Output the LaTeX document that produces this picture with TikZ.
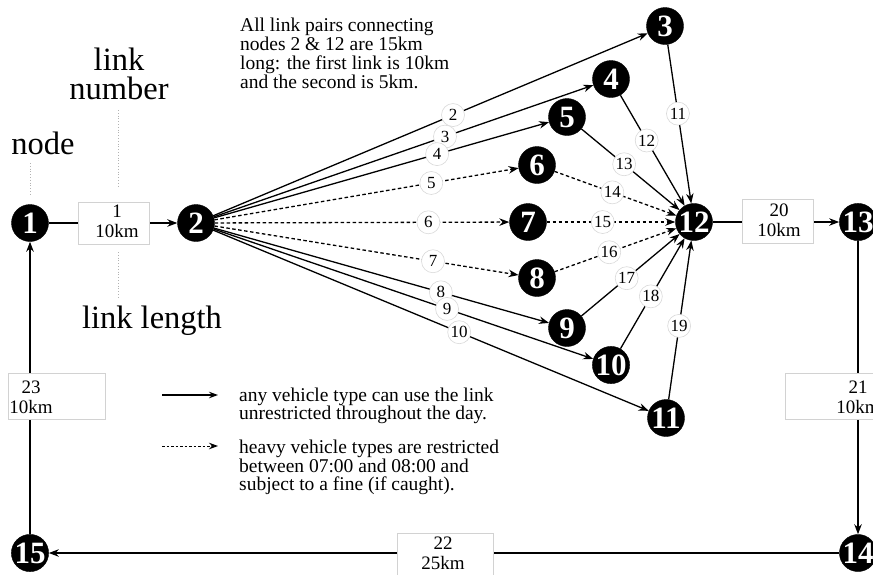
\documentclass[tikz,border=0pt]{standalone}
\usepackage{fontspec}
\setmainfont{Liberation Serif}
\usetikzlibrary{arrows.meta,calc}
\begin{document}
\begin{tikzpicture}[x=1pt,y=-1pt,
  junction/.style={circle,fill=black,draw=black,minimum size=37pt,inner sep=0pt,
    text=white,font=\fontsize{31}{31}\selectfont\bfseries},
  linkno/.style={circle,fill=white,draw=gray!30,line width=0.6pt,minimum size=23pt,
    inner sep=0pt,font=\fontsize{17}{17}\selectfont},
  linkbox/.style={draw=gray!35,fill=white,line width=0.8pt,inner sep=0pt},
  boxtext/.style={align=center,inner sep=0pt,font=\fontsize{19}{20}\selectfont},
  road/.style={line width=1.3pt,-{Stealth[length=10pt,width=7.5pt]}},
  restricted/.style={road,dash pattern=on 3.5pt off 2.5pt},
  guide/.style={gray!60,line width=0.8pt,dotted},
  bigtext/.style={inner sep=0pt,font=\fontsize{32.5}{29}\selectfont},
  note/.style={inner sep=0pt,anchor=north west,align=left},
]
\useasboundingbox (0,0) rectangle (873,574);

% junctions
\node[junction] (n1) at (30,223) {1};
\node[junction] (n2) at (196,223) {2};
\node[junction] (n3) at (665,26) {3};
\node[junction] (n4) at (611,79) {4};
\node[junction] (n5) at (567,117) {5};
\node[junction] (n6) at (537,165) {6};
\node[junction] (n7) at (528,222) {7};
\node[junction] (n8) at (537,278) {8};
\node[junction] (n9) at (567,328) {9};
\node[junction] (n10) at (611,365) {10};
\node[junction] (n11) at (666,418) {11};
\node[junction] (n12) at (694,222) {12};
\node[junction] (n13) at (858,222) {13};
\node[junction] (n14) at (858,553) {14};
\node[junction] (n15) at (30,553) {15};

% outer ring of links
\draw[road] (n1) -- (n2);
\draw[road] (n12) -- (n13);
\draw[road] (n13) -- (n14);
\draw[road] (n14) -- (n15);
\draw[road] (n15) -- (n1);

% first halves of the link pairs
\draw[road] (n2) -- (n3);
\draw[road] (n2) -- (n4);
\draw[road] (n2) -- (n5);
\draw[restricted] (n2) -- (n6);
\draw[restricted] (n2) -- (n7);
\draw[restricted] (n2) -- (n8);
\draw[road] (n2) -- (n9);
\draw[road] (n2) -- (n10);
\draw[road] (n2) -- (n11);

% second halves of the link pairs
\draw[road] (n3) -- (n12);
\draw[road] (n4) -- (n12);
\draw[road] (n5) -- (n12);
\draw[restricted] (n6) -- (n12);
\draw[restricted] (n7) -- (n12);
\draw[restricted] (n8) -- (n12);
\draw[road] (n9) -- (n12);
\draw[road] (n10) -- (n12);
\draw[road] (n11) -- (n12);

% link numbers on the link pairs
\node[linkno] (l2) at ($(n2)!0.548!(n3)$) {2};
\node[linkno] (l3) at ($(n2)!0.600!(n4)$) {3};
\node[linkno] (l4) at ($(n2)!0.650!(n5)$) {4};
\node[linkno] (l5) at ($(n2)!0.690!(n6)$) {5};
\node[linkno] (l6) at ($(n2)!0.700!(n7)$) {6};
\node[linkno] (l7) at ($(n2)!0.695!(n8)$) {7};
\node[linkno] (l8) at ($(n2)!0.660!(n9)$) {8};
\node[linkno] (l9) at ($(n2)!0.605!(n10)$) {9};
\node[linkno] (l10) at ($(n2)!0.560!(n11)$) {10};
\node[linkno] (l11) at ($(n3)!0.447!(n12)$) {11};
\node[linkno] (l12) at ($(n4)!0.430!(n12)$) {12};
\node[linkno] (l13) at ($(n5)!0.450!(n12)$) {13};
\node[linkno] (l14) at ($(n6)!0.480!(n12)$) {14};
\node[linkno] (l15) at ($(n7)!0.450!(n12)$) {15};
\node[linkno] (l16) at ($(n8)!0.460!(n12)$) {16};
\node[linkno] (l17) at ($(n9)!0.470!(n12)$) {17};
\node[linkno] (l18) at ($(n10)!0.480!(n12)$) {18};
\node[linkno] (l19) at ($(n11)!0.470!(n12)$) {19};

% link boxes with number and length
\node[linkbox,minimum width=71pt,minimum height=42pt] (b1) at (113.5,223) {};
\node[boxtext] (t1) at (117,221) {1\\10km};
\node[linkbox,minimum width=71pt,minimum height=44pt] (b20) at (777.5,221) {};
\node[boxtext] (t20) at (779,220) {20\\10km};
\node[linkbox,minimum width=97pt,minimum height=46pt] (b21) at (833.5,396) {};
\node[boxtext] (t21) at (858,397) {21\\10km};
\node[linkbox,minimum width=96pt,minimum height=46pt] (b22) at (445,556) {};
\node[boxtext] (t22) at (443,553) {22\\25km};
\node[linkbox,minimum width=97pt,minimum height=46pt] (b23) at (56.5,396) {};
\node[boxtext] (t23) at (31,397) {23\\10km};

% key labels with dotted leaders
\node[bigtext,anchor=base] (knode) at (43,154) {node};
\node[bigtext,anchor=north,align=center] (knumber) at (119,47.5) {link\\number};
\node[bigtext,anchor=base] (klength) at (152,328) {link length};
\coordinate (g1a) at (30,163); \coordinate (g1b) at (30,195);
\coordinate (g2a) at (118,110); \coordinate (g2b) at (118,188);
\coordinate (g3a) at (118,252); \coordinate (g3b) at (118,298);
\draw[guide] (g1a) -- (g1b);
\draw[guide] (g2a) -- (g2b);
\draw[guide] (g3a) -- (g3b);

% explanatory note
\node[note,font=\fontsize{19.5}{19.2}\selectfont] (pairs) at (240,17.5)
  {All link pairs connecting\\nodes 2 \& 12 are 15km\\long: the first link is 10km\\and the second is 5km.};

% legend
\coordinate (ka) at (162,395); \coordinate (kb) at (218,395);
\coordinate (kc) at (162,446); \coordinate (kd) at (218,446);
\draw[line width=1.3pt,-{Stealth[length=9pt,width=6.5pt]}] (ka) -- (kb);
\draw[line width=1pt,dash pattern=on 2.5pt off 2pt,-{Stealth[length=9pt,width=6.5pt]}] (kc) -- (kd);
\node[note,font=\fontsize{19.5}{18.4}\selectfont] (keyA) at (239,387.5)
  {any vehicle type can use the link\\unrestricted throughout the day.};
\node[note,font=\fontsize{19.5}{18.4}\selectfont] (keyB) at (239,440)
  {heavy vehicle types are restricted\\between 07:00 and 08:00 and\\subject to a fine (if caught).};
\end{tikzpicture}
\end{document}
